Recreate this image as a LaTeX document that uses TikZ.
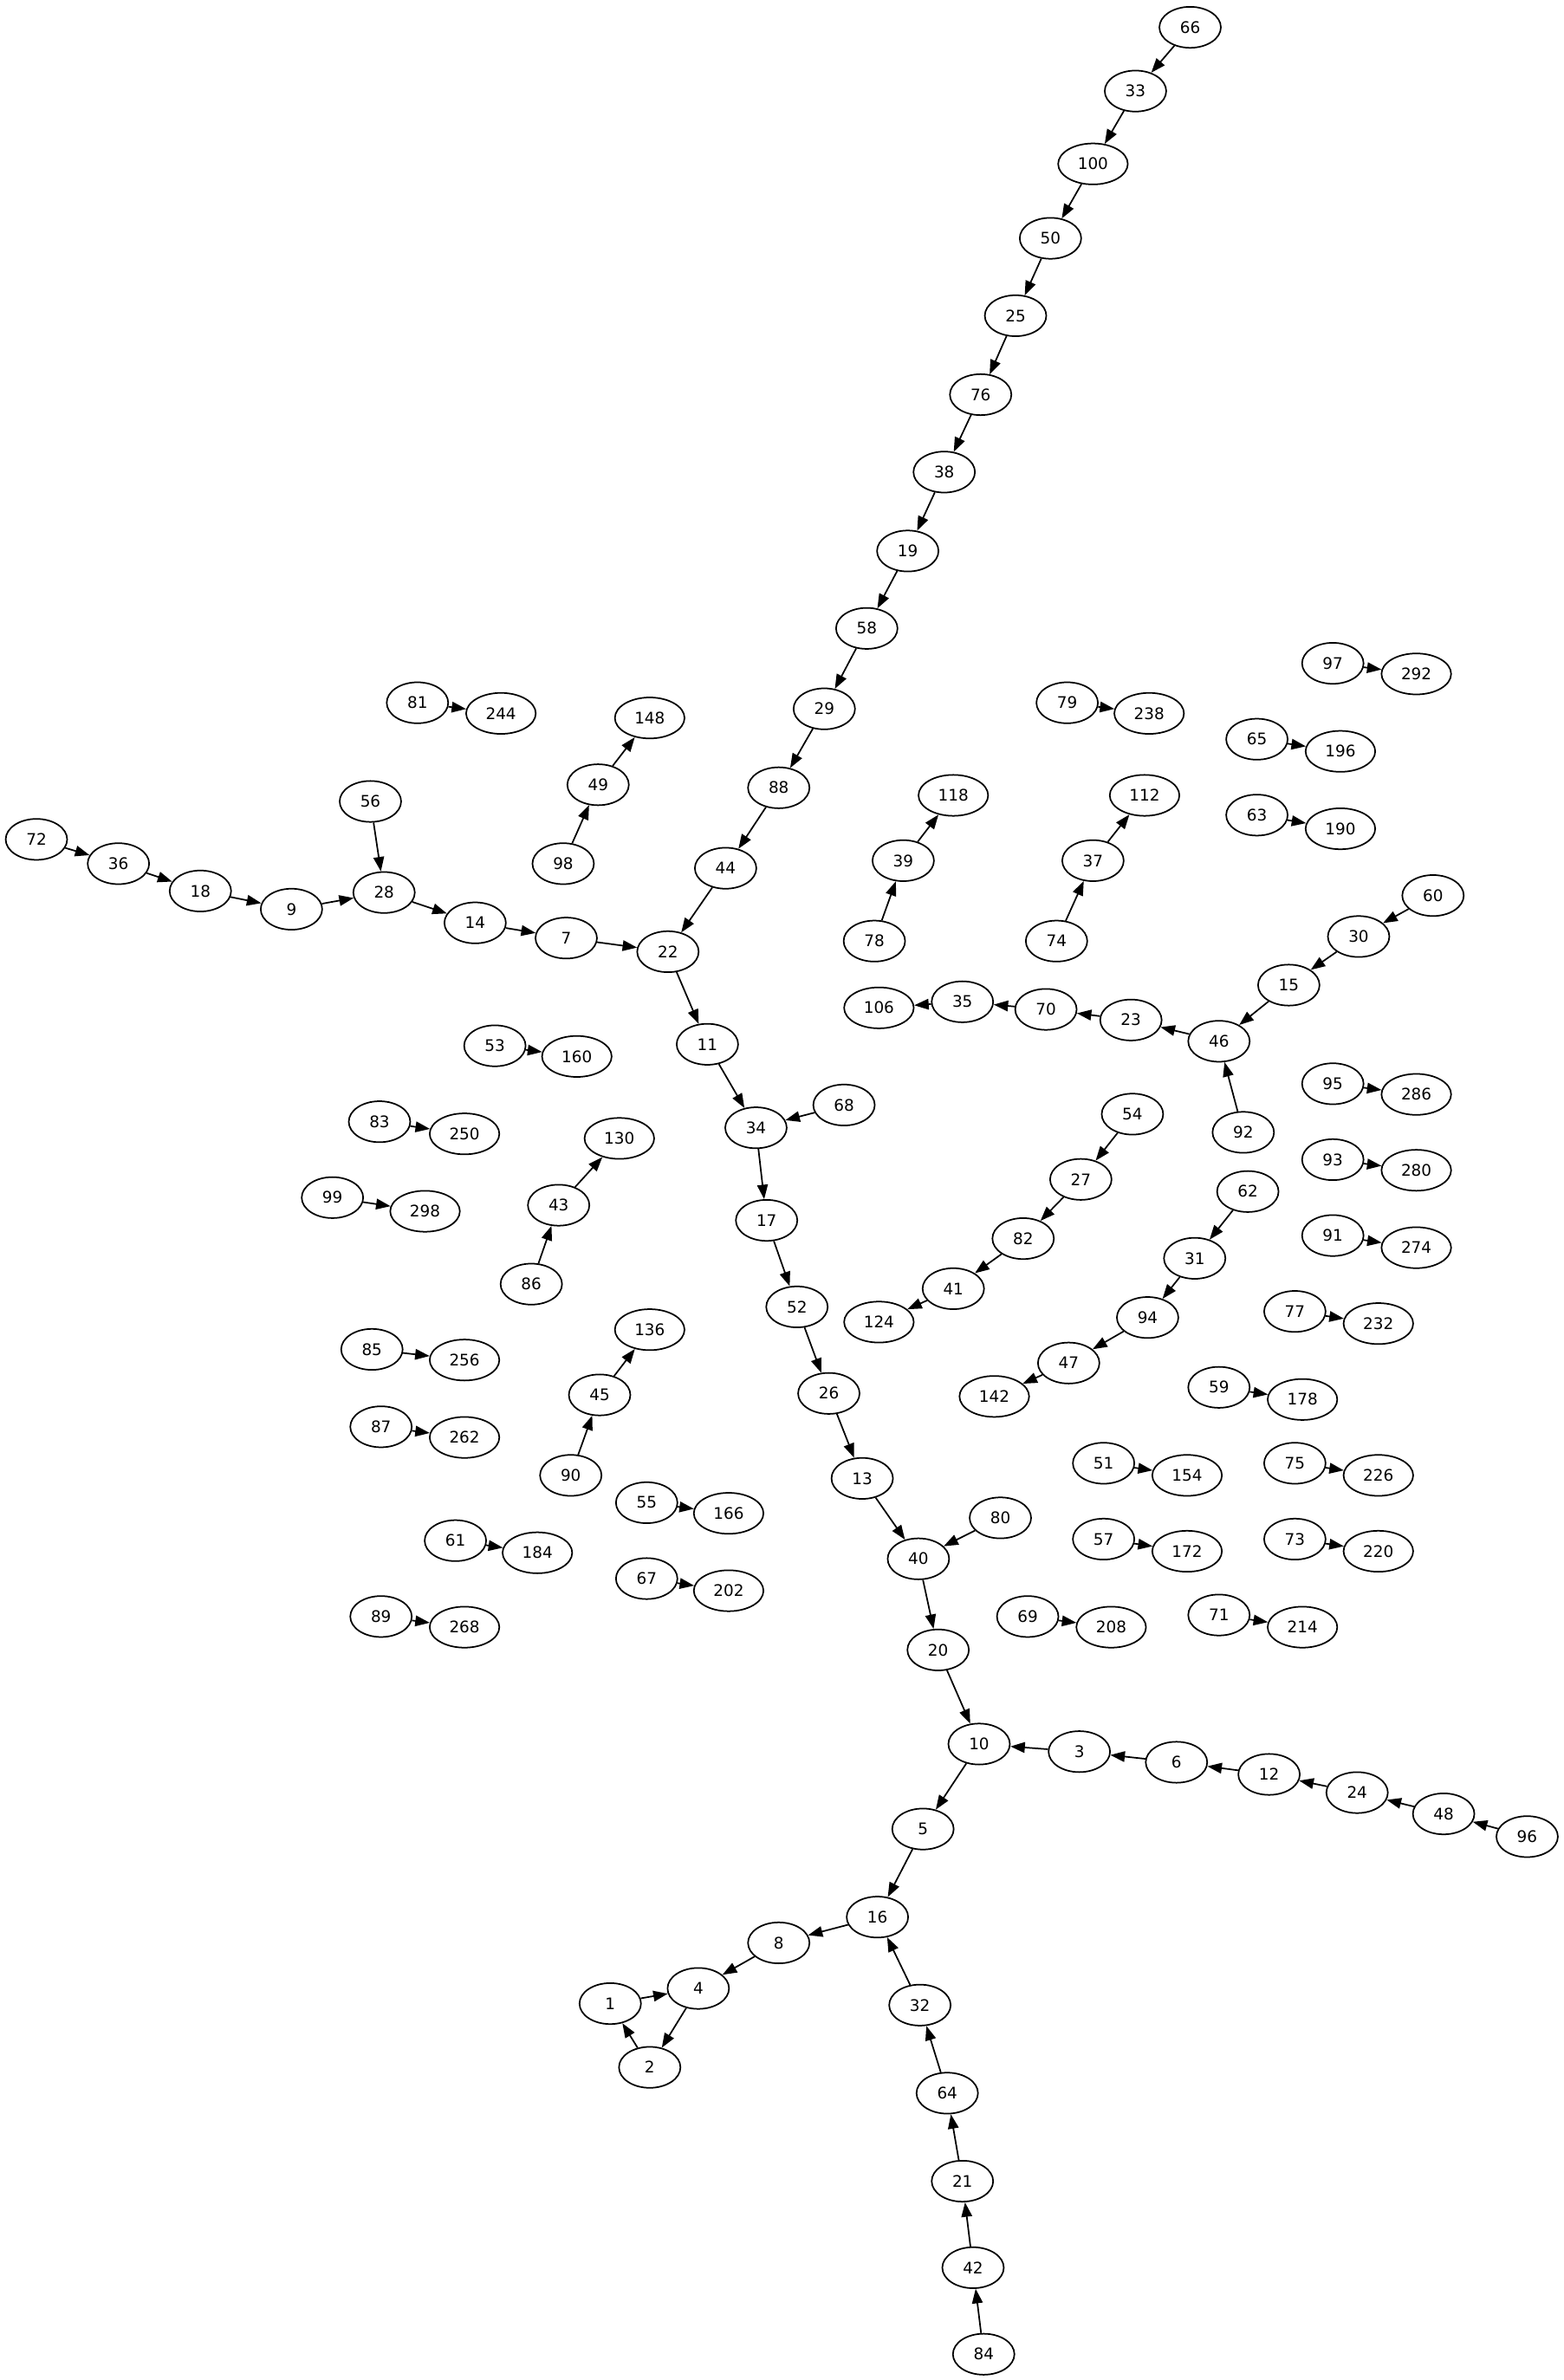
\documentclass[tikz,border=0pt]{standalone}
\usepackage{fontspec}
\setmainfont{DejaVu Sans}
\usetikzlibrary{arrows.meta,shapes.geometric}
\tikzset{
  num/.style={
    ellipse,
    draw=black,
    line width=1pt,
    inner xsep=6.2pt,
    inner ysep=2pt,
    minimum width=40.5pt,
    minimum height=27pt,
    font=\fontsize{10.5}{12}\selectfont,
  },
  link/.style={
    line width=1pt,
    -{Triangle[length=9.5pt,width=7pt]},
  }
}

\begin{document}
\begin{tikzpicture}[x=1pt,y=-1pt]
        \useasboundingbox (0,0) rectangle (1030,1568);

        % main chain
        \node [num] (n66) at (784,18) {66};
        \node [num] (n33) at (748,60) {33};
        \node [num] (n100) at (720,108) {100};
        \node [num] (n50) at (692,157) {50};
        \node [num] (n25) at (669,208) {25};
        \node [num] (n76) at (646,260) {76};
        \node [num] (n38) at (622,311) {38};
        \node [num] (n19) at (598,363) {19};
        \node [num] (n58) at (571,414) {58};
        \node [num] (n29) at (543,467) {29};
        \node [num] (n88) at (513,519) {88};
        \node [num] (n44) at (478,572) {44};
        \node [num] (n22) at (440,627) {22};
        \node [num] (n7) at (373,618) {7};
        \node [num] (n14) at (313,608) {14};
        \node [num] (n28) at (253,588) {28};
        \node [num] (n56) at (244,528) {56};
        \node [num] (n9) at (192,599) {9};
        \node [num] (n18) at (132,587) {18};
        \node [num] (n36) at (78,569) {36};
        \node [num] (n72) at (24,553) {72};
        \node [num] (n11) at (466,688) {11};
        \node [num] (n34) at (498,743) {34};
        \node [num] (n68) at (556,728) {68};
        \node [num] (n17) at (505,804) {17};
        \node [num] (n52) at (525,861) {52};
        \node [num] (n26) at (546,918) {26};
        \node [num] (n13) at (568,974) {13};
        \node [num] (n40) at (605,1027) {40};
        \node [num] (n80) at (659,1000) {80};
        \node [num] (n20) at (618,1087) {20};
        \node [num] (n10) at (645,1149) {10};
        \node [num] (n3) at (711,1154) {3};
        \node [num] (n6) at (775,1161) {6};
        \node [num] (n12) at (836,1169) {12};
        \node [num] (n24) at (894,1181) {24};
        \node [num] (n48) at (951,1195) {48};
        \node [num] (n96) at (1006,1210) {96};
        \node [num] (n5) at (608,1205) {5};
        \node [num] (n16) at (578,1263) {16};
        \node [num] (n8) at (513,1280) {8};
        \node [num] (n4) at (460,1310) {4};
        \node [num] (n1) at (402,1320) {1};
        \node [num] (n2) at (428,1362) {2};
        \node [num] (n32) at (606,1321) {32};
        \node [num] (n64) at (624,1379) {64};
        \node [num] (n21) at (634,1437) {21};
        \node [num] (n42) at (641,1494) {42};
        \node [num] (n84) at (648,1551) {84};

        % left side
        \node [num] (n81) at (275,463) {81};
        \node [num] (n244) at (330,470) {244};
        \node [num] (n49) at (394,517) {49};
        \node [num] (n148) at (428,473) {148};
        \node [num] (n98) at (371,569) {98};
        \node [num] (n53) at (326,689) {53};
        \node [num] (n160) at (380,696) {160};
        \node [num] (n83) at (250,739) {83};
        \node [num] (n250) at (306,747) {250};
        \node [num] (n43) at (368,794) {43};
        \node [num] (n130) at (408,750) {130};
        \node [num] (n86) at (350,846) {86};
        \node [num] (n99) at (219,789) {99};
        \node [num] (n298) at (280,798) {298};
        \node [num] (n85) at (245,889) {85};
        \node [num] (n256) at (306,896) {256};
        \node [num] (n45) at (395,919) {45};
        \node [num] (n136) at (428,876) {136};
        \node [num] (n90) at (376,972) {90};
        \node [num] (n87) at (251,940) {87};
        \node [num] (n262) at (306,947) {262};
        \node [num] (n55) at (426,990) {55};
        \node [num] (n166) at (480,997) {166};
        \node [num] (n61) at (300,1015) {61};
        \node [num] (n184) at (354,1023) {184};
        \node [num] (n67) at (426,1040) {67};
        \node [num] (n202) at (480,1048) {202};
        \node [num] (n89) at (251,1065) {89};
        \node [num] (n268) at (306,1072) {268};

        % middle
        \node [num] (n79) at (703,463) {79};
        \node [num] (n238) at (757,470) {238};
        \node [num] (n39) at (595,567) {39};
        \node [num] (n118) at (628,524) {118};
        \node [num] (n78) at (576,620) {78};
        \node [num] (n37) at (720,567) {37};
        \node [num] (n112) at (754,524) {112};
        \node [num] (n74) at (696,620) {74};
        \node [num] (n46) at (803,686) {46};
        \node [num] (n23) at (745,672) {23};
        \node [num] (n70) at (689,665) {70};
        \node [num] (n35) at (634,660) {35};
        \node [num] (n106) at (579,664) {106};
        \node [num] (n15) at (849,649) {15};
        \node [num] (n30) at (895,617) {30};
        \node [num] (n60) at (944,590) {60};
        \node [num] (n92) at (819,746) {92};
        \node [num] (n54) at (746,734) {54};
        \node [num] (n27) at (712,777) {27};
        \node [num] (n82) at (674,816) {82};
        \node [num] (n41) at (628,849) {41};
        \node [num] (n124) at (579,871) {124};
        \node [num] (n62) at (822,785) {62};
        \node [num] (n31) at (787,829) {31};
        \node [num] (n94) at (756,868) {94};
        \node [num] (n47) at (704,898) {47};
        \node [num] (n142) at (655,920) {142};

        % right side
        \node [num] (n97) at (878,437) {97};
        \node [num] (n292) at (933,444) {292};
        \node [num] (n65) at (828,487) {65};
        \node [num] (n196) at (883,495) {196};
        \node [num] (n63) at (828,537) {63};
        \node [num] (n190) at (883,546) {190};
        \node [num] (n95) at (878,714) {95};
        \node [num] (n286) at (933,721) {286};
        \node [num] (n93) at (878,764) {93};
        \node [num] (n280) at (933,771) {280};
        \node [num] (n91) at (878,814) {91};
        \node [num] (n274) at (933,822) {274};
        \node [num] (n77) at (853,864) {77};
        \node [num] (n232) at (908,872) {232};
        \node [num] (n59) at (803,914) {59};
        \node [num] (n178) at (858,922) {178};
        \node [num] (n75) at (853,964) {75};
        \node [num] (n226) at (908,972) {226};
        \node [num] (n51) at (727,964) {51};
        \node [num] (n154) at (782,972) {154};
        \node [num] (n73) at (853,1014) {73};
        \node [num] (n220) at (908,1022) {220};
        \node [num] (n57) at (727,1014) {57};
        \node [num] (n172) at (782,1022) {172};
        \node [num] (n69) at (677,1065) {69};
        \node [num] (n208) at (732,1072) {208};
        \node [num] (n71) at (803,1064) {71};
        \node [num] (n214) at (858,1072) {214};

        % edges
        \draw [link] (n66) -- (n33);
        \draw [link] (n33) -- (n100);
        \draw [link] (n100) -- (n50);
        \draw [link] (n50) -- (n25);
        \draw [link] (n25) -- (n76);
        \draw [link] (n76) -- (n38);
        \draw [link] (n38) -- (n19);
        \draw [link] (n19) -- (n58);
        \draw [link] (n58) -- (n29);
        \draw [link] (n29) -- (n88);
        \draw [link] (n88) -- (n44);
        \draw [link] (n44) -- (n22);
        \draw [link] (n7) -- (n22);
        \draw [link] (n14) -- (n7);
        \draw [link] (n28) -- (n14);
        \draw [link] (n56) -- (n28);
        \draw [link] (n9) -- (n28);
        \draw [link] (n18) -- (n9);
        \draw [link] (n36) -- (n18);
        \draw [link] (n72) -- (n36);
        \draw [link] (n22) -- (n11);
        \draw [link] (n11) -- (n34);
        \draw [link] (n68) -- (n34);
        \draw [link] (n34) -- (n17);
        \draw [link] (n17) -- (n52);
        \draw [link] (n52) -- (n26);
        \draw [link] (n26) -- (n13);
        \draw [link] (n13) -- (n40);
        \draw [link] (n80) -- (n40);
        \draw [link] (n40) -- (n20);
        \draw [link] (n20) -- (n10);
        \draw [link] (n3) -- (n10);
        \draw [link] (n6) -- (n3);
        \draw [link] (n12) -- (n6);
        \draw [link] (n24) -- (n12);
        \draw [link] (n48) -- (n24);
        \draw [link] (n96) -- (n48);
        \draw [link] (n10) -- (n5);
        \draw [link] (n5) -- (n16);
        \draw [link] (n16) -- (n8);
        \draw [link] (n8) -- (n4);
        \draw [link] (n4) -- (n2);
        \draw [link] (n2) -- (n1);
        \draw [link] (n1) -- (n4);
        \draw [link] (n32) -- (n16);
        \draw [link] (n64) -- (n32);
        \draw [link] (n21) -- (n64);
        \draw [link] (n42) -- (n21);
        \draw [link] (n84) -- (n42);

        \draw [link] (n81) -- (n244);
        \draw [link] (n49) -- (n148);
        \draw [link] (n98) -- (n49);
        \draw [link] (n53) -- (n160);
        \draw [link] (n83) -- (n250);
        \draw [link] (n43) -- (n130);
        \draw [link] (n86) -- (n43);
        \draw [link] (n99) -- (n298);
        \draw [link] (n85) -- (n256);
        \draw [link] (n45) -- (n136);
        \draw [link] (n90) -- (n45);
        \draw [link] (n87) -- (n262);
        \draw [link] (n55) -- (n166);
        \draw [link] (n61) -- (n184);
        \draw [link] (n67) -- (n202);
        \draw [link] (n89) -- (n268);

        \draw [link] (n79) -- (n238);
        \draw [link] (n39) -- (n118);
        \draw [link] (n78) -- (n39);
        \draw [link] (n37) -- (n112);
        \draw [link] (n74) -- (n37);
        \draw [link] (n46) -- (n23);
        \draw [link] (n23) -- (n70);
        \draw [link] (n70) -- (n35);
        \draw [link] (n35) -- (n106);
        \draw [link] (n15) -- (n46);
        \draw [link] (n30) -- (n15);
        \draw [link] (n60) -- (n30);
        \draw [link] (n92) -- (n46);
        \draw [link] (n54) -- (n27);
        \draw [link] (n27) -- (n82);
        \draw [link] (n82) -- (n41);
        \draw [link] (n41) -- (n124);
        \draw [link] (n62) -- (n31);
        \draw [link] (n31) -- (n94);
        \draw [link] (n94) -- (n47);
        \draw [link] (n47) -- (n142);

        \draw [link] (n97) -- (n292);
        \draw [link] (n65) -- (n196);
        \draw [link] (n63) -- (n190);
        \draw [link] (n95) -- (n286);
        \draw [link] (n93) -- (n280);
        \draw [link] (n91) -- (n274);
        \draw [link] (n77) -- (n232);
        \draw [link] (n59) -- (n178);
        \draw [link] (n75) -- (n226);
        \draw [link] (n51) -- (n154);
        \draw [link] (n73) -- (n220);
        \draw [link] (n57) -- (n172);
        \draw [link] (n69) -- (n208);
        \draw [link] (n71) -- (n214);
      \end{tikzpicture}
\end{document}
